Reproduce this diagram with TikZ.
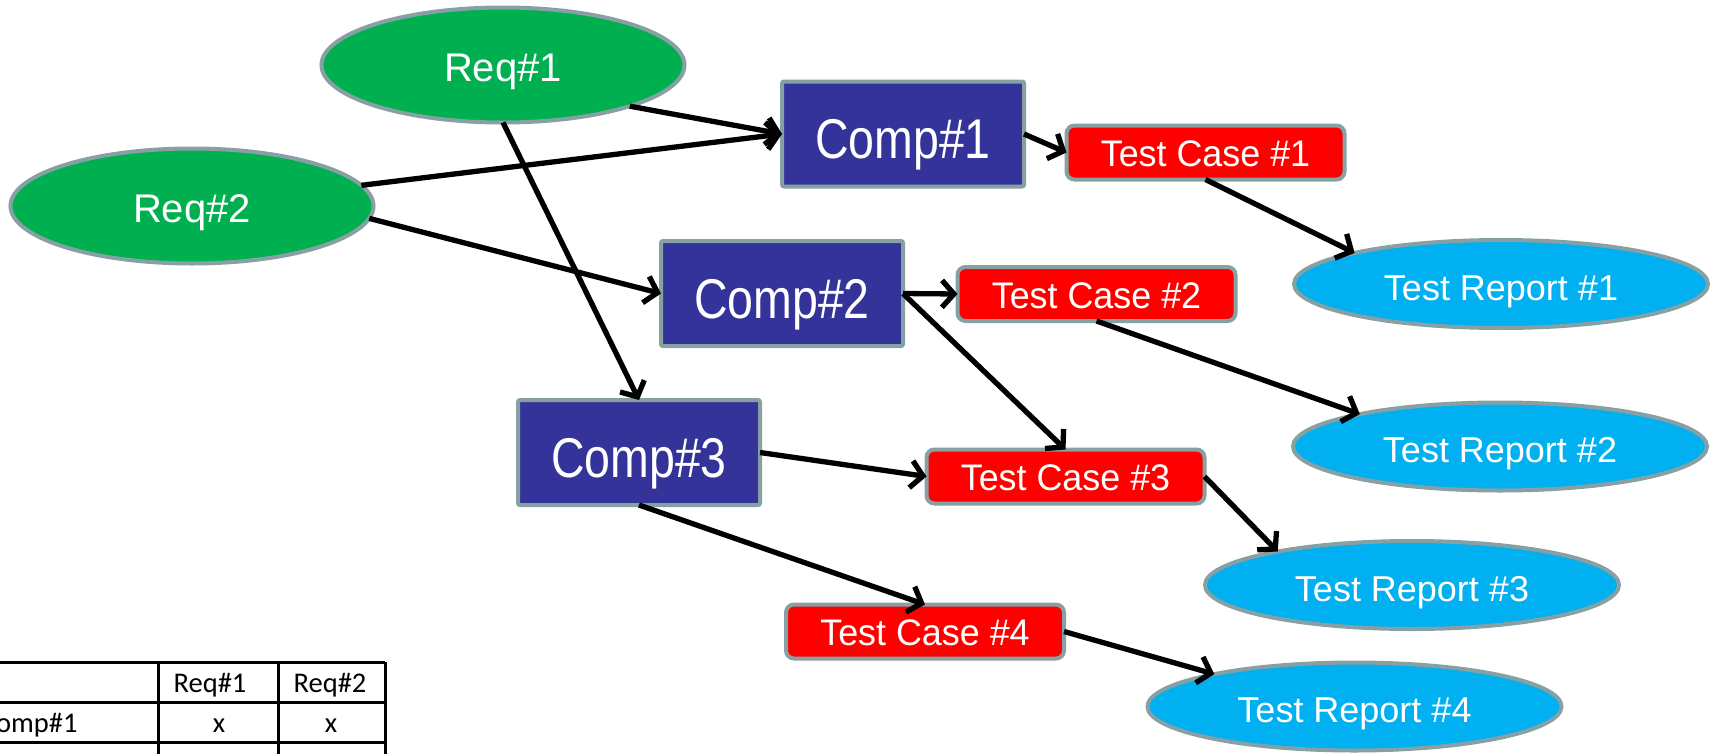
\documentclass[tikz,border=0pt]{standalone}
\usepackage{fontspec}
\setmainfont{Liberation Sans}
\newfontfamily\reqfont{Liberation Sans}
\newfontfamily\compfont[FakeStretch=0.83]{Liberation Sans}
\newfontfamily\tcfont[FakeStretch=0.97]{Liberation Sans}
\newfontfamily\tabfont{Carlito}
\usetikzlibrary{shapes.geometric,arrows.meta}
\definecolor{reqgreen}{HTML}{00B050}
\definecolor{compblue}{HTML}{343399}
\definecolor{tcred}{HTML}{FF0000}
\definecolor{trcyan}{HTML}{00B0F0}
\definecolor{bordergray}{RGB}{135,160,163}
\begin{document}
\begin{tikzpicture}[x=1pt,y=-1pt,
  every node/.style={inner sep=0pt, outer sep=0pt},
  reqnode/.style={ellipse, draw=bordergray, line width=4pt, fill=reqgreen, text=white,
    minimum width=363pt, minimum height=115pt, text height=33pt, text depth=0pt,
    font=\reqfont\fontsize{40}{48}\selectfont},
  compnode/.style={rectangle, rounded corners=2pt, draw=bordergray, line width=4pt, fill=compblue, text=white,
    minimum width=242pt, minimum height=105pt, text height=49pt, text depth=0pt,
    font=\compfont\fontsize{56}{60}\selectfont},
  tcnode/.style={rectangle, rounded corners=8pt, draw=bordergray, line width=4pt, fill=tcred, text=white,
    minimum width=278pt, minimum height=54pt, text height=28.5pt, text depth=0pt,
    font=\tcfont\fontsize{37}{40}\selectfont},
  trnode/.style={ellipse, draw=bordergray, line width=4pt, fill=trcyan, text=white,
    minimum width=414pt, minimum height=88pt, text height=32pt, text depth=0pt,
    font=\reqfont\fontsize{36}{40}\selectfont},
  link/.style={draw=black, line width=5.3pt, -{Straight Barb[length=12pt,width=27pt]}},
  tabline/.style={line width=3pt, draw=black},
  tabtext/.style={font=\tabfont\fontsize{28.5}{30}\selectfont, anchor=base, text=black}
]
\path[use as bounding box] (0,0) rectangle (1717,753);
\clip (0,0) rectangle (1717,753);

% table
\draw[tabline] (-25,662) -- (385,662);
\draw[tabline] (-25,702) -- (385,702);
\draw[tabline] (-25,742) -- (385,742);
\draw[tabline] (158,662) -- (158,770);
\draw[tabline] (278,662) -- (278,770);
\draw[tabline] (385,662) -- (385,770);
\node[tabtext] (hreq1) at (210,692) {Req\#1};
\node[tabtext] (hreq2) at (330,692) {Req\#2};
\node[tabtext, anchor=base west] (rcomp1) at (-19,732) {Comp\#1};
\node[tabtext] (x11) at (219,732) {x};
\node[tabtext] (x12) at (331,732) {x};

% nodes
\node[reqnode] (Req1) at (503,65) {Req\#1};
\node[reqnode] (Req2) at (192,206) {Req\#2};
\node[compnode] (Comp1) at (903,134) {Comp\#1};
\node[compnode] (Comp2) at (782,293.5) {Comp\#2};
\node[compnode] (Comp3) at (639,452.5) {Comp\#3};
\node[tcnode] (TC1) at (1205.5,152.5) {Test Case \#1};
\node[tcnode] (TC2) at (1096.5,294) {Test Case \#2};
\node[tcnode] (TC3) at (1065.5,476.5) {Test Case \#3};
\node[tcnode] (TC4) at (925,631.5) {Test Case \#4};
\node[trnode] (TR1) at (1501,284) {Test Report \#1};
\node[trnode] (TR2) at (1500,446.5) {Test Report \#2};
\node[trnode] (TR3) at (1412,585) {Test Report \#3};
\node[trnode] (TR4) at (1354.5,706.5) {Test Report \#4};

% connectors
\draw[link] (Req1.-18) -- (Comp1.west);
\draw[link] (Req2) -- (Comp1.west);
\draw[link] (Req2.-4) -- (Comp2.west);
\draw[link] (Req1.south) -- (Comp3.north);
\draw[link] (Comp1.east) -- (TC1.west);
\draw[link] (TC1.south) -- (TR1.168);
\draw[link] (Comp2.east) -- (TC2.west);
\draw[link] (Comp2.east) -- (TC3.north);
\draw[link] (TC2.south) -- (TR2.167);
\draw[link] (Comp3.east) -- (TC3.west);
\draw[link] (TC3.east) -- (TR3.166);
\draw[link] (Comp3.south) -- (TC4.north);
\draw[link] (TC4.east) -- (TR4.167);
\end{tikzpicture}
\end{document}
